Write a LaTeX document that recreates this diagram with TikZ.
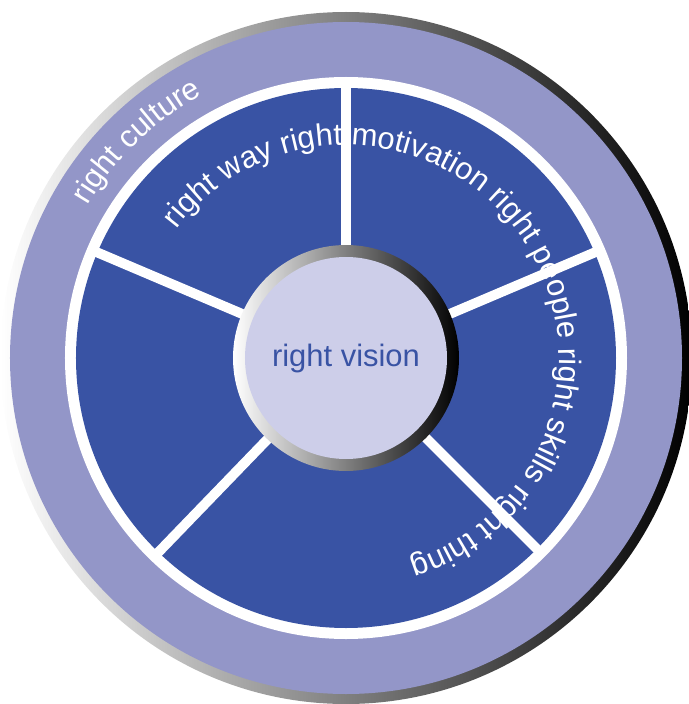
\documentclass[tikz,border=0pt]{standalone}
\usepackage{fontspec}
\setmainfont{Liberation Sans}
\usetikzlibrary{decorations.text}
\definecolor{wheelblue}{HTML}{3953A4}
\definecolor{ringlav}{HTML}{9396C8}
\definecolor{hubpale}{HTML}{CDCEE9}
\begin{document}
\begin{tikzpicture}[x=0.025cm,y=0.025cm,spoke/.style={white,line width=7pt}]
	\useasboundingbox (-346,-346) rectangle (343,358);
	\shade[left color=white,right color=black] (0,0) circle (346);
	\fill[ringlav] (0,0) circle (336);
	\fill[white] (0,0) circle (281);
	\fill[wheelblue] (0,0) circle (270);
	\foreach \a in {90,23,-45,-134,157} \draw[spoke] (\a:105) -- (\a:276);
	\shade[left color=white,right color=black] (0,0) circle (113);
	\fill[hubpale] (0,0) circle (101);
	\node[text=wheelblue,font=\fontsize{22}{26}\selectfont] (vision) at (0,0) {right vision};
	\path[decorate,decoration={text along path,text align=center,text color=white,
		text={|\fontsize{22}{26}\selectfont|right culture}}] (174:300) arc[start angle=174,end angle=94,radius=300];
	\path[decorate,decoration={text along path,text align=center,text color=white,
		text={|\fontsize{22}{26}\selectfont|right way right motivation right people right skills right thing}}] (160:213) arc[start angle=160,end angle=-90,radius=213];
\end{tikzpicture}
\end{document}
